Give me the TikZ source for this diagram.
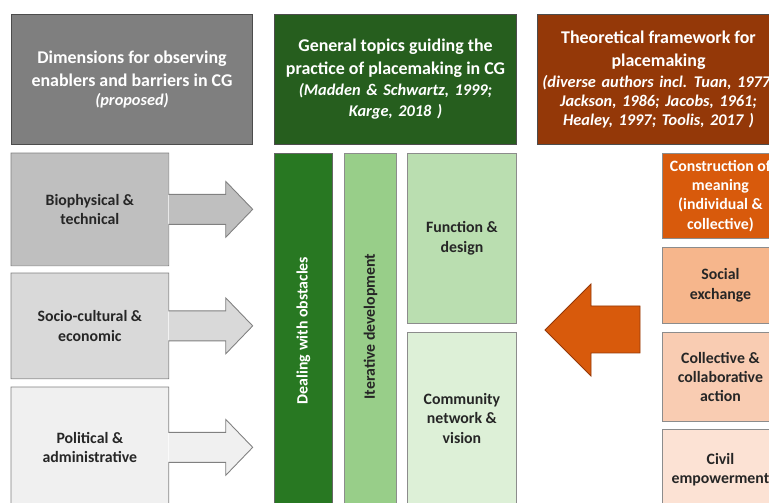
\documentclass[tikz,border=0pt]{standalone}
\usepackage{fontspec}
\setmainfont{Carlito}
\usetikzlibrary{positioning}

\definecolor{headgray}{RGB}{127,127,127}
\definecolor{headgreen}{RGB}{38,94,30}
\definecolor{headbrown}{RGB}{148,56,8}
\definecolor{dimone}{RGB}{191,191,191}
\definecolor{dimtwo}{RGB}{217,217,217}
\definecolor{dimthree}{RGB}{240,240,240}
\definecolor{topicdark}{RGB}{40,120,34}
\definecolor{topicmid}{RGB}{152,206,137}
\definecolor{topiclight}{RGB}{186,222,176}
\definecolor{topicpale}{RGB}{221,240,215}
\definecolor{theoone}{RGB}{216,90,12}
\definecolor{theotwo}{RGB}{246,182,140}
\definecolor{theothree}{RGB}{249,204,178}
\definecolor{theofour}{RGB}{252,226,212}
\definecolor{textdark}{RGB}{38,38,38}

\newcommand{\citefont}{\bfseries\itshape\fontsize{9.3}{11}\selectfont
  \spaceskip=0.34em plus 0.1em\relax}

% outline of a dimension box with its arrow (node, fill colour)
\newcommand{\dimarrow}[2]{%
  \fill[#2] ([shift={(0,-15)}]#1.east) -- ([shift={(57,-15)}]#1.east)
    -- ([shift={(57,-28)}]#1.east) -- ([shift={(84,0)}]#1.east)
    -- ([shift={(57,28)}]#1.east) -- ([shift={(57,15)}]#1.east)
    -- ([shift={(0,15)}]#1.east) -- cycle;
  \draw[dimline] (#1.south west) -- (#1.north west) -- (#1.north east)
    -- ([shift={(0,-15)}]#1.east) -- ([shift={(57,-15)}]#1.east)
    -- ([shift={(57,-28)}]#1.east) -- ([shift={(84,0)}]#1.east)
    -- ([shift={(57,28)}]#1.east) -- ([shift={(57,15)}]#1.east)
    -- ([shift={(0,15)}]#1.east) -- (#1.south east) -- cycle;}

\begin{document}
\begin{tikzpicture}[x=0.02cm, y=-0.02cm, line join=miter,
    box/.style 2 args={minimum width=#1*0.02cm, minimum height=#2*0.02cm,
      inner sep=0pt, align=center, anchor=north west, text=textdark,
      font=\bfseries\fontsize{9}{11}\selectfont},
    header/.style={draw=black!70, line width=0.6pt, text=white,
      font=\bfseries\fontsize{10.2}{13}\selectfont},
    tile/.style={draw=black!45, line width=0.5pt},
    dimline/.style={draw=black!50, line width=0.5pt}]

    % frame of the picture
    \useasboundingbox (0,0) rectangle (769,503);
    \clip (0,0) rectangle (769,503);

    % Headers
    \node[box={241}{130}, header, fill=headgray] (hdim) at (11,14)
        {Dimensions for observing\\enablers and barriers in CG\\[-2pt]
         {\citefont (proposed)}};
    \node[box={242}{130}, header, fill=headgreen] (htopic) at (274,14)
        {General topics guiding the\\practice of placemaking in CG\\[-1pt]
         {\citefont (Madden \& Schwartz, 1999;}\\[-1pt]{\citefont Karge, 2018 )}};
    \node[box={242}{130}, header, fill=headbrown] (htheo) at (537,14)
        {Theoretical framework for\\placemaking\\[-1pt]
         {\citefont (diverse authors incl. Tuan, 1977;}\\[-2pt]
         {\citefont Jackson, 1986; Jacobs, 1961;}\\[-2pt]
         {\citefont Healey, 1997; Toolis, 2017 )}};

    % Dimensions with arrows
    \node[box={157}{112}, fill=dimone] (bio) at (11,153) {Biophysical \&\\technical};
    \node[box={157}{105}, fill=dimtwo] (eco) at (11,273) {Socio-cultural \&\\economic};
    \node[box={157}{120}, fill=dimthree] (pol) at (11,387) {Political \&\\administrative};
    \dimarrow{bio}{dimone}
    \dimarrow{eco}{dimtwo}
    \dimarrow{pol}{dimthree}

    % General topics
    \node[box={58}{352}, tile, draw=black!60, fill=topicdark] (deal) at (274,153) {};
    \node[rotate=90, text=white, font=\bfseries\fontsize{9}{11}\selectfont]
        (dealtext) at ([yshift=-0.02cm]deal.center) {Dealing with obstacles};
    \node[box={52}{352}, tile, fill=topicmid] (iter) at (344,153) {};
    \node[rotate=90, text=textdark, font=\bfseries\fontsize{9}{11}\selectfont]
        (itertext) at ([yshift=0.06cm]iter.center) {Iterative development};
    \node[box={109}{170}, tile, fill=topiclight] (func) at (407,153) {Function \&\\design};
    \node[box={109}{172}, tile, fill=topicpale] (comm) at (407,332) {Community\\network \&\\vision};

    % Theoretical framework
    \node[box={116}{85}, tile, fill=theoone, text=white] (cons) at (662,153)
        {Construction of\\meaning\\(individual \&\\collective)};
    \node[box={116}{76}, tile, fill=theotwo] (soc) at (662,247) {Social\\exchange};
    \node[box={116}{89}, tile, fill=theothree] (coll) at (662,332)
        {Collective \&\\collaborative\\action};
    \node[box={116}{80}, tile, fill=theofour] (civ) at (662,429) {Civil\\empowerment};

    % Arrow from the framework to the topics
    \coordinate (theotip) at (545,330);
    \filldraw[fill=theoone, draw=headbrown, line width=0.5pt] (theotip)
        -- ([shift={(46,-46)}]theotip) -- ([shift={(46,-24)}]theotip)
        -- ([shift={(95,-24)}]theotip) -- ([shift={(95,23)}]theotip)
        -- ([shift={(46,23)}]theotip) -- ([shift={(46,46)}]theotip) -- cycle;
\end{tikzpicture}
\end{document}
